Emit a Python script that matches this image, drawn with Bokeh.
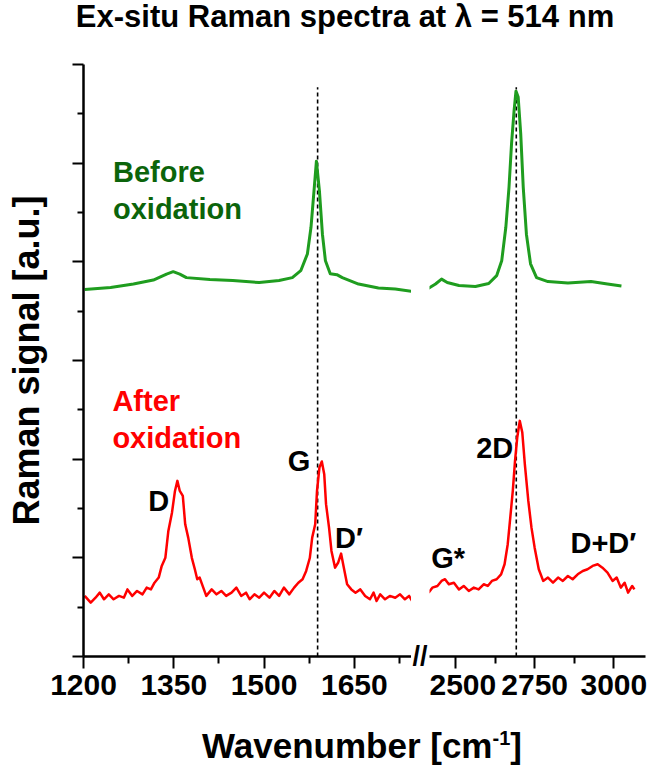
from bokeh.plotting import figure
from bokeh.models import FixedTicker, Label, Div, CustomJSTickFormatter, Range1d
from bokeh.layouts import row, column
from bokeh.embed import file_html
from bokeh.resources import INLINE

# ---------------- data ----------------
# Before oxidation, low-wavenumber window
wn_before_low = [1202, 1245, 1283, 1316, 1338, 1349, 1360, 1371, 1410, 1448, 1492, 1525,
                 1547, 1561, 1572, 1578, 1583, 1587, 1592, 1597, 1602, 1610, 1621, 1630,
                 1657, 1690, 1718, 1746]
sig_before_low = [3.72, 3.74, 3.775, 3.815, 3.876, 3.90, 3.876, 3.84, 3.82, 3.81, 3.79, 3.81,
                  3.84, 3.91, 4.08, 4.35, 4.72, 5.02, 4.72, 4.28, 4.01, 3.88, 3.87, 3.84,
                  3.775, 3.735, 3.724, 3.70]
# Before oxidation, high-wavenumber window
wn_before_high = [2414, 2437, 2456, 2474, 2511, 2563, 2605, 2630, 2646, 2659, 2669, 2677,
                  2685, 2691, 2698, 2706, 2714, 2724, 2737, 2756, 2792, 2855, 2928, 2980, 3024]
sig_before_high = [3.73, 3.775, 3.825, 3.79, 3.76, 3.75, 3.78, 3.86, 4.01, 4.35, 4.755, 5.195,
                   5.53, 5.73, 5.67, 5.30, 4.755, 4.28, 3.98, 3.84, 3.80, 3.785, 3.80, 3.775, 3.755]
# After oxidation, low-wavenumber window
wn_after_low = [1202, 1212, 1220, 1227, 1234, 1242, 1250, 1259, 1267, 1273, 1281, 1289,
                1298, 1305, 1312, 1318, 1325, 1330, 1336, 1341, 1347, 1352, 1356, 1360,
                1365, 1369, 1374, 1380, 1385, 1389, 1393, 1399, 1404, 1413, 1421, 1429,
                1437, 1446, 1454, 1462, 1470, 1476, 1484, 1492, 1500, 1509, 1517, 1525,
                1533, 1542, 1550, 1557, 1564, 1570, 1576, 1580, 1585, 1588, 1592, 1596,
                1600, 1603, 1608, 1612, 1618, 1623, 1628, 1632, 1638, 1645, 1652, 1660,
                1668, 1676, 1682, 1687, 1693, 1701, 1709, 1718, 1726, 1734, 1741, 1746]
sig_after_low = [0.614, 0.546, 0.596, 0.647, 0.58, 0.63, 0.58, 0.614, 0.596, 0.68, 0.614, 0.664,
                 0.63, 0.698, 0.68, 0.748, 0.80, 0.918, 1.00, 1.273, 1.458, 1.678, 1.78, 1.678,
                 1.628, 1.34, 1.205, 1.00, 0.884, 0.783, 0.80, 0.698, 0.614, 0.68, 0.63, 0.664,
                 0.614, 0.647, 0.698, 0.614, 0.647, 0.58, 0.63, 0.596, 0.647, 0.596, 0.664, 0.614,
                 0.698, 0.63, 0.698, 0.748, 0.783, 0.867, 0.998, 1.205, 1.34, 1.678, 1.915, 1.976,
                 1.848, 1.544, 1.306, 1.07, 0.90, 0.95, 1.043, 0.918, 0.732, 0.68, 0.647, 0.68,
                 0.614, 0.58, 0.647, 0.563, 0.63, 0.58, 0.614, 0.596, 0.63, 0.58, 0.614, 0.563]
# After oxidation, high-wavenumber window
wn_after_high = [2415, 2427, 2443, 2456, 2467, 2479, 2495, 2511, 2526, 2542, 2558, 2573,
                 2589, 2602, 2615, 2630, 2644, 2655, 2665, 2673, 2681, 2688, 2695, 2703,
                 2711, 2719, 2730, 2740, 2750, 2763, 2777, 2792, 2808, 2824, 2839, 2855,
                 2870, 2886, 2902, 2917, 2933, 2949, 2964, 2980, 2996, 3009, 3022, 3034,
                 3045, 3058, 3065]
sig_after_high = [0.647, 0.698, 0.715, 0.766, 0.783, 0.732, 0.748, 0.68, 0.715, 0.664, 0.698, 0.68,
                  0.732, 0.715, 0.766, 0.783, 0.833, 0.935, 1.138, 1.408, 1.678, 1.983, 2.219, 2.388,
                  2.27, 1.949, 1.577, 1.306, 1.103, 0.884, 0.766, 0.80, 0.748, 0.80, 0.766, 0.816,
                  0.783, 0.833, 0.867, 0.884, 0.918, 0.935, 0.90, 0.85, 0.766, 0.80, 0.698, 0.748,
                  0.647, 0.715, 0.68]

# reference band positions (dashed lines)
band_positions = [1589, 2692]
band_line_top = 5.77

# peak annotations
peak_names_low = ["D", "G", "D\u2032"]
peak_x_low = [1325, 1558, 1641]
peak_y_low = [1.58, 1.98, 1.205]
peak_names_high = ["G*", "2D", "D+D\u2032"]
peak_x_high = [2477, 2624, 2967]
peak_y_high = [0.994, 2.11, 1.146]

# ticks
x_ticks_low = [1200, 1350, 1500, 1650]
x_minor_low = [1275, 1425, 1575, 1725]
x_ticks_high = [2500, 2750, 3000]
x_minor_high = [2625, 2875]
y_ticks = [0, 1, 2, 3, 4, 5, 6]
y_minor = [0.5, 1.5, 2.5, 3.5, 4.5, 5.5]

# ---------------- styling ----------------
FONT = "Liberation Sans"
GREEN = "#1f9d1f"
GREEN_TXT = "#0b640b"
RED = "#ff0000"
FIG_H = 666

y_range = Range1d(0, 6)


def make_fig(width, xr, bl, br, ticks, minor):
    p = figure(width=width, height=FIG_H, x_range=xr, y_range=y_range,
               output_backend="svg", toolbar_location=None,
               min_border_left=bl, min_border_right=br, min_border_top=8, min_border_bottom=66)
    p.outline_line_color = None
    p.grid.visible = False
    ax = p.xaxis[0]
    ax.ticker = FixedTicker(ticks=ticks, minor_ticks=minor)
    ax.axis_line_width = 2.5
    ax.major_tick_line_width = 2
    ax.minor_tick_line_width = 2
    ax.major_tick_out = 12
    ax.major_tick_in = 0
    ax.minor_tick_out = 7
    ax.minor_tick_in = 0
    ax.major_label_text_font = FONT
    ax.major_label_text_font_style = "bold"
    ax.major_label_text_font_size = "30px"
    ax.major_label_text_color = "black"
    ax.major_label_standoff = 6
    return p


left = make_fig(411, Range1d(1200, 1745), 83, 0, x_ticks_low, x_minor_low)
right = make_fig(219, Range1d(2418, 3100), 0, 3, x_ticks_high, x_minor_high)

# y axis (left only)
ya = left.yaxis[0]
ya.ticker = FixedTicker(ticks=y_ticks, minor_ticks=y_minor)
ya.formatter = CustomJSTickFormatter(code="return ''")
ya.axis_line_width = 2.5
ya.major_tick_line_width = 2
ya.minor_tick_line_width = 2
ya.major_tick_out = 11
ya.major_tick_in = 0
ya.minor_tick_out = 6
ya.minor_tick_in = 0
ya.major_label_standoff = 0
ya.axis_label = "Raman signal [a.u.]"
ya.axis_label_text_font = FONT
ya.axis_label_text_font_style = "bold"
ya.axis_label_text_font_size = "36px"
ya.axis_label_text_color = "black"
ya.axis_label_standoff = 26
right.yaxis.visible = False

# dashed band lines
left.segment(x0=band_positions[:1], y0=[0], x1=band_positions[:1], y1=[band_line_top],
             line_color="black", line_width=1.6, line_dash="4 3")
right.segment(x0=band_positions[1:], y0=[0], x1=band_positions[1:], y1=[band_line_top],
              line_color="black", line_width=1.6, line_dash="4 3")

# spectra
left.line(wn_before_low, sig_before_low, line_color=GREEN, line_width=3, line_join="round")
right.line(wn_before_high, sig_before_high, line_color=GREEN, line_width=3, line_join="round")
left.line(wn_after_low, sig_after_low, line_color=RED, line_width=2.5, line_join="round")
right.line(wn_after_high, sig_after_high, line_color=RED, line_width=2.5, line_join="round")


def lab(p, x, y, text, color="black", size="29px", align="center", baseline="middle", **kw):
    p.add_layout(Label(x=x, y=y, text=text, text_color=color, text_font=FONT,
                       text_font_style="bold", text_font_size=size,
                       text_align=align, text_baseline=baseline, **kw))


for n, x, y in zip(peak_names_low, peak_x_low, peak_y_low):
    lab(left, x, y, n)
for n, x, y in zip(peak_names_high, peak_x_high, peak_y_high):
    lab(right, x, y, n)

lab(left, 1249, 4.914, "Before", GREEN_TXT, align="left", baseline="alphabetic")
lab(left, 1249, 4.535, "oxidation", GREEN_TXT, align="left", baseline="alphabetic")
lab(left, 1248, 2.591, "After", RED, align="left", baseline="alphabetic")
lab(left, 1248, 2.213, "oxidation", RED, align="left", baseline="alphabetic")

# axis-break mark, drawn in the narrow gap between the two windows
brk = Div(text=("<div style=\"width:18px;height:30px;position:relative;top:585px;"
                "text-align:center;font:bold 27px 'Liberation Sans',Arial,sans-serif;"
                "line-height:30px;white-space:nowrap;color:black\">//</div>"),
          width=18, height=FIG_H, margin=(0, 0, 0, 0))

title = Div(text=("<div style=\"width:648px;height:56px;text-align:center;padding-left:42px;"
                  "box-sizing:border-box;font:bold 31px 'Liberation Sans',Arial,sans-serif;"
                  "line-height:34px;white-space:nowrap;color:black\">"
                  "Ex-situ Raman spectra at \u03bb = 514 nm</div>"),
            width=648, height=56, margin=(0, 0, 0, 0))
xlabel = Div(text=("<div style=\"width:648px;height:46px;text-align:center;padding-left:76px;"
                   "padding-top:4px;box-sizing:border-box;"
                   "font:bold 35px 'Liberation Sans',Arial,sans-serif;"
                   "line-height:40px;white-space:nowrap;color:black\">"
                   "Wavenumber [cm<sup style=\"font-size:20px;line-height:0\">-1</sup>]</div>"),
             width=648, height=50, margin=(0, 0, 0, 0))

layout = column(title, row(left, brk, right, spacing=0), xlabel, spacing=0)

open("out.html", "w").write(file_html(layout, INLINE))
